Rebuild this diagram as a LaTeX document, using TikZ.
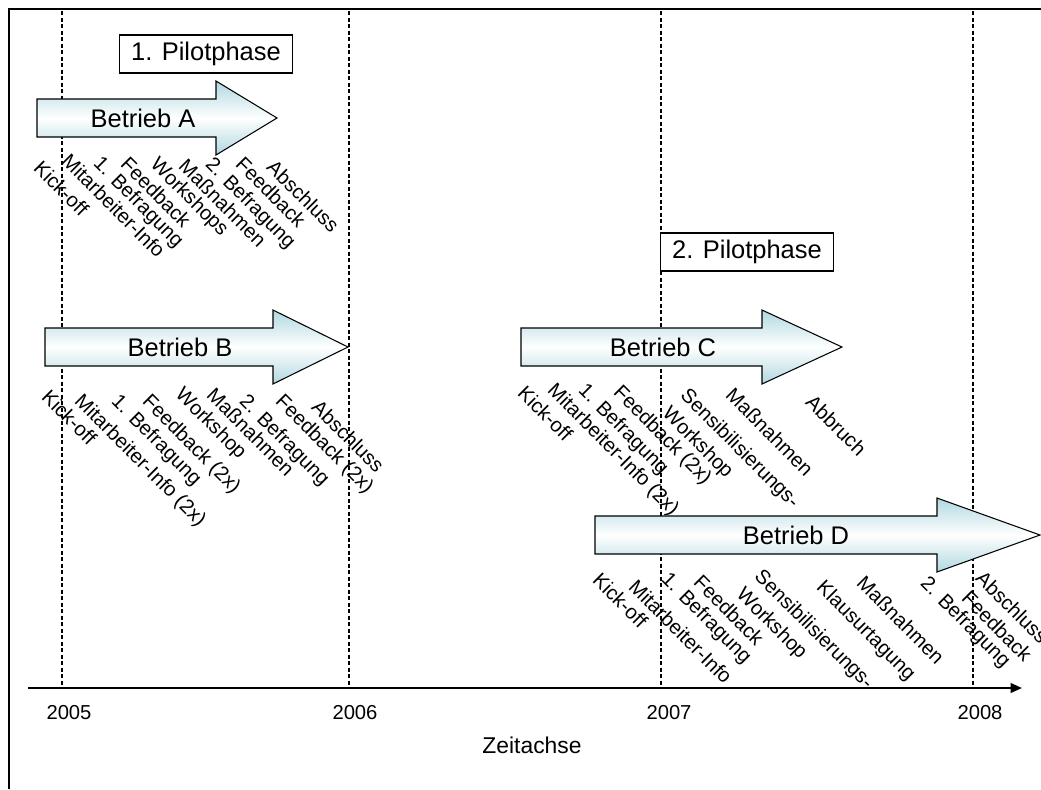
\documentclass[tikz,border=0pt]{standalone}
\usepackage{fontspec}
\setmainfont{Liberation Sans}
\usetikzlibrary{arrows.meta}
\definecolor{pfeiltuerkis}{RGB}{176,216,224}

\begin{document}
\begin{tikzpicture}[x=0.02cm, y=-0.02cm,
    pfeil/.style={draw=black, line width=0.6pt, top color=pfeiltuerkis, bottom color=pfeiltuerkis, middle color=white},
    pfeiltext/.style={font=\fontsize{14.5}{17}\selectfont, inner sep=0pt},
    phase/.style={draw=black, line width=0.6pt, fill=white, minimum width=3.46cm, minimum height=0.76cm, font=\fontsize{14.5}{17}\selectfont},
    schritt/.style={rotate=-45, anchor=north west, inner sep=0pt, align=left, font=\fontsize{11.5}{14.5}\selectfont},
    jahr/.style={font=\fontsize{11.5}{13}\selectfont},
    trenner/.style={dash pattern=on 2.3pt off 1.4pt, line width=0.75pt}]
    \useasboundingbox (0,0) rectangle (1041,789);
    \draw[line width=0.75pt] (9,789) -- (9,9) -- (1041,9);

    \coordinate (o2005) at (62,11);
    \coordinate (u2005) at (62,688);
    \coordinate (o2006) at (349,11);
    \coordinate (u2006) at (349,688);
    \coordinate (o2007) at (661,11);
    \coordinate (u2007) at (661,688);
    \coordinate (o2008) at (973,11);
    \coordinate (u2008) at (973,688);
    \draw[trenner] (o2005) -- (u2005);
    \draw[trenner] (o2006) -- (u2006);
    \draw[trenner] (o2007) -- (u2007);
    \draw[trenner] (o2008) -- (u2008);

    \coordinate (achseA) at (28,688);
    \coordinate (achseE) at (1022,688);
    \draw[line width=1.2pt, -{Triangle[length=6.5pt,width=5.5pt]}] (achseA) -- (achseE);
    \node[jahr] (j2005) at (69,713) {2005};
    \node[jahr] (j2006) at (355,713) {2006};
    \node[jahr] (j2007) at (669,713) {2007};
    \node[jahr] (j2008) at (980,713) {2008};
    \node[font=\fontsize{13}{15}\selectfont] (zeit) at (532,745) {Zeitachse};

    \node[phase] (phase1) at (206,54) {1. Pilotphase};
    \node[phase] (phase2) at (747,252) {2. Pilotphase};

    \draw[pfeil] (37,99) -- (216,99) -- (216,81) -- (277,118) -- (216,155) -- (216,137) -- (37,137) -- cycle;
    \node[pfeiltext] (betA) at (143,118) {Betrieb A};
    \draw[pfeil] (45,328) -- (273,328) -- (273,310) -- (348,347) -- (273,384) -- (273,366) -- (45,366) -- cycle;
    \node[pfeiltext] (betB) at (180,347) {Betrieb B};
    \draw[pfeil] (521,328) -- (762,328) -- (762,310) -- (842,347) -- (762,384) -- (762,366) -- (521,366) -- cycle;
    \node[pfeiltext] (betC) at (663,347) {Betrieb C};
    \draw[pfeil] (595,516) -- (937,516) -- (937,498) -- (1040,535) -- (937,572) -- (937,554) -- (595,554) -- cycle;
    \node[pfeiltext] (betD) at (796,535) {Betrieb D};

    \node[schritt] (a1) at (43,159) {Kick-off};
    \node[schritt] (a2) at (71,152) {Mitarbeiter-Info};
    \node[schritt] (a3) at (103,154) {1. Befragung};
    \node[schritt] (a4) at (130,155) {Feedback};
    \node[schritt] (a5) at (160,155) {Workshops};
    \node[schritt] (a6) at (188,157) {Maßnahmen};
    \node[schritt] (a7) at (215,155) {2. Befragung};
    \node[schritt] (a8) at (245,155) {Feedback};
    \node[schritt] (a9) at (276,158) {Abschluss};

    \node[schritt] (b1) at (51,388) {Kick-off};
    \node[schritt] (b2) at (84,392) {Mitarbeiter-Info (2x)};
    \node[schritt] (b3) at (121,392) {1. Befragung};
    \node[schritt] (b4) at (152,392) {Feedback (2x)};
    \node[schritt] (b5) at (185,385) {Workshop};
    \node[schritt] (b6) at (216,386) {Maßnahmen};
    \node[schritt] (b7) at (249,392) {2. Befragung};
    \node[schritt] (b8) at (285,392) {Feedback (2x)};
    \node[schritt] (b9) at (321,398) {Abschluss};

    \node[schritt] (c1) at (527,384) {Kick-off};
    \node[schritt] (c2) at (557,381) {Mitarbeiter-Info (2x)};
    \node[schritt] (c3) at (588,381) {1. Befragung};
    \node[schritt] (c4) at (623,383) {Feedback (2x)};
    \node[schritt] (c5) at (690,386) {Sensibilisierungs-\\Workshop};
    \node[schritt] (c6) at (735,386) {Maßnahmen};
    \node[schritt] (c7) at (815,393) {Abbruch};

    \node[schritt] (d1) at (602,571) {Kick-off};
    \node[schritt] (d2) at (638,578) {Mitarbeiter-Info};
    \node[schritt] (d3) at (671,570) {1. Befragung};
    \node[schritt] (d4) at (703,573) {Feedback};
    \node[schritt] (d5) at (764,567) {Sensibilisierungs-\\Workshop};
    \node[schritt] (d6) at (826,578) {Klausurtagung};
    \node[schritt] (d7) at (866,574) {Maßnahmen};
    \node[schritt] (d8) at (930,574) {2. Befragung};
    \node[schritt] (d9) at (971,589) {Feedback};
    \node[schritt] (d10) at (985,569) {Abschluss};
\end{tikzpicture}
\end{document}
